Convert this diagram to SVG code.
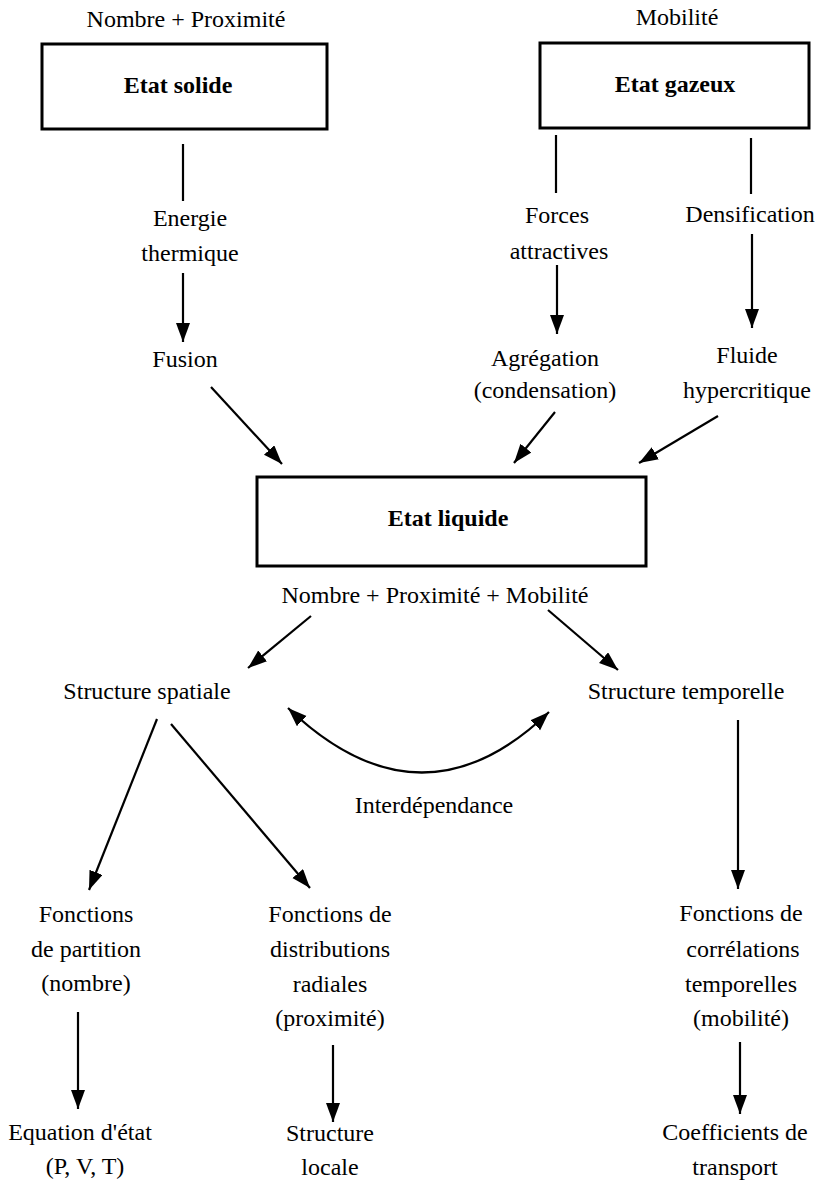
<svg xmlns="http://www.w3.org/2000/svg" width="819" height="1182" viewBox="0 0 819 1182">
<style>
text{font-family:"Liberation Serif","Times New Roman",serif;font-size:24px;fill:#000;text-anchor:middle}
.b{font-weight:bold}
.box{fill:#fff;stroke:#000;stroke-width:3}
.c line,.c path{stroke:#000;stroke-width:2.2;fill:none}
</style>
<defs>
<marker id="ah" markerUnits="userSpaceOnUse" markerWidth="22" markerHeight="16" refX="19" refY="7" orient="auto-start-reverse">
<path d="M0,0 L19,7 L0,14 z" fill="#000"/>
</marker>
</defs>
<rect width="819" height="1182" fill="#fff"/>
<g id="solide">
<text x="186" y="27">Nombre + Proximité</text>
<rect class="box" x="42" y="44" width="285" height="85"/>
<text class="b" x="178" y="93">Etat solide</text>
</g>
<g id="gazeux">
<text x="677" y="25">Mobilité</text>
<rect class="box" x="540" y="43" width="269" height="85"/>
<text class="b" x="675" y="92">Etat gazeux</text>
</g>
<g id="energie"><text x="190" y="226">Energie</text><text x="190" y="261">thermique</text></g>
<g id="fusion"><text x="185" y="367">Fusion</text></g>
<g id="forces"><text x="557" y="223">Forces</text><text x="559" y="259">attractives</text></g>
<g id="agregation"><text x="545" y="366">Agrégation</text><text x="545" y="398">(condensation)</text></g>
<g id="densification"><text x="750" y="222">Densification</text></g>
<g id="fluide"><text x="747" y="363">Fluide</text><text x="747" y="398">hypercritique</text></g>
<g id="liquide">
<rect class="box" x="257" y="477" width="389" height="89"/>
<text class="b" x="448" y="526">Etat liquide</text>
<text x="435" y="603">Nombre + Proximité + Mobilité</text>
</g>
<g id="spatiale"><text x="147" y="699">Structure spatiale</text></g>
<g id="temporelle"><text x="686" y="699">Structure temporelle</text></g>
<g id="interdependance"><text x="434" y="813">Interdépendance</text></g>
<g id="partition"><text x="86" y="922">Fonctions</text><text x="86" y="957">de partition</text><text x="86" y="991">(nombre)</text></g>
<g id="distributions"><text x="330" y="922">Fonctions de</text><text x="330" y="957">distributions</text><text x="330" y="992">radiales</text><text x="330" y="1026">(proximité)</text></g>
<g id="correlations"><text x="741" y="921">Fonctions de</text><text x="743" y="957">corrélations</text><text x="741" y="992">temporelles</text><text x="741" y="1026">(mobilité)</text></g>
<g id="equation"><text x="80" y="1140">Equation d'état</text><text x="85" y="1174">(P, V, T)</text></g>
<g id="locale"><text x="330" y="1141">Structure</text><text x="330" y="1175">locale</text></g>
<g id="transport"><text x="735" y="1140">Coefficients de</text><text x="735" y="1175">transport</text></g>
<g id="connectors" class="c">
<line x1="183" y1="144" x2="183" y2="201"/>
<line x1="183" y1="273" x2="183" y2="342" marker-end="url(#ah)"/>
<line x1="211" y1="387" x2="282" y2="464" marker-end="url(#ah)"/>
<line x1="556" y1="135" x2="556" y2="193"/>
<line x1="557" y1="265" x2="557" y2="334" marker-end="url(#ah)"/>
<line x1="555" y1="412" x2="514" y2="463" marker-end="url(#ah)"/>
<line x1="751" y1="138" x2="751" y2="194"/>
<line x1="752" y1="234" x2="752" y2="328" marker-end="url(#ah)"/>
<line x1="718" y1="416" x2="639" y2="463" marker-end="url(#ah)"/>
<line x1="311" y1="616" x2="248" y2="668" marker-end="url(#ah)"/>
<line x1="548" y1="610" x2="618" y2="670" marker-end="url(#ah)"/>
<path d="M288,708 Q421,835 549,712" marker-start="url(#ah)" marker-end="url(#ah)"/>
<line x1="157" y1="719" x2="89" y2="890" marker-end="url(#ah)"/>
<line x1="171" y1="724" x2="310" y2="888" marker-end="url(#ah)"/>
<line x1="738" y1="720" x2="738" y2="889" marker-end="url(#ah)"/>
<line x1="78" y1="1012" x2="78" y2="1109" marker-end="url(#ah)"/>
<line x1="333" y1="1045" x2="333" y2="1122" marker-end="url(#ah)"/>
<line x1="740" y1="1042" x2="740" y2="1114" marker-end="url(#ah)"/>
</g>
</svg>
